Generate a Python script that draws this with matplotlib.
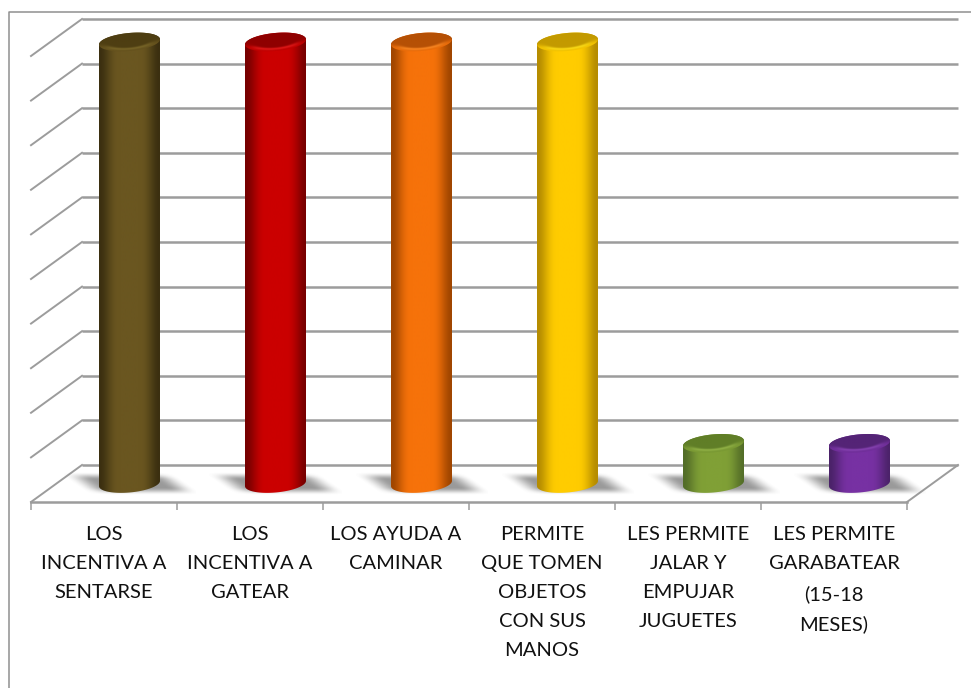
import numpy as np
import matplotlib
matplotlib.use("Agg")
import matplotlib.pyplot as plt
from matplotlib.colors import to_rgb
from matplotlib.lines import Line2D
from matplotlib.patches import Polygon

categories = ["LOS\nINCENTIVA A\nSENTARSE", "LOS\nINCENTIVA A\nGATEAR", "LOS AYUDA A\nCAMINAR",
              "PERMITE\nQUE TOMEN\nOBJETOS\nCON SUS\nMANOS", "LES PERMITE\nJALAR Y\nEMPUJAR\nJUGUETES",
              "LES PERMITE\nGARABATEAR\n(15-18\nMESES)"]
values = [99, 99, 99, 99, 9, 9]
edge_colors = ["#3b2f10", "#760000", "#a04600", "#b58c00", "#536d28", "#4b2269"]
center_colors = ["#6a5620", "#cb0000", "#f6720a", "#ffcc00", "#80a036", "#7731a3"]
top_colors = ["#4e3e12", "#8f0000", "#b55005", "#c39a00", "#607e27", "#542476"]
rim_colors = ["#7d6a2a", "#ea1c1c", "#ff8c26", "#ffe21a", "#97b84a", "#8c45b8"]
grid_values = list(range(0, 101, 10))

W, H = 971, 688
L, R, B, T = 31, 907, 502, 56
GRID = "#9c9c9c"

fig = plt.figure(figsize=(W / 100, H / 100), dpi=100, facecolor="white")
ax = fig.add_axes([L / W, 1 - B / H, (R - L) / W, (B - T) / H])
ax.set_xlim(0, 6)
ax.set_ylim(0, 100)
ux, uy = (R - L) / 6, (B - T) / 100      # px per data unit
depth_x, depth_y = 51 / ux, 37 / uy

# outer frame
fig.add_artist(Line2D([8.5 / W, 8.5 / W, 1], [0, 1 - 11.5 / H, 1 - 11.5 / H], color="#8f8f8f", lw=1.1))

# walls and floor
for v in grid_values:
    ax.plot([depth_x, 6 + depth_x], [v + depth_y] * 2, color=GRID, lw=1.8,
            clip_on=False, zorder=1, solid_capstyle="butt")
    ax.plot([0, depth_x], [v, v + depth_y], color=GRID, lw=1.4, clip_on=False, zorder=1)
ax.plot([6, 6 + depth_x], [0, depth_y], color=GRID, lw=1.4, clip_on=False, zorder=1)

for s in ("top", "left", "right"):
    ax.spines[s].set_visible(False)
ax.spines["bottom"].set_color(GRID)
ax.spines["bottom"].set_linewidth(1.8)
ax.set_yticks([])
ax.set_xticks(range(7))
ax.set_xticklabels([])
ax.tick_params(axis="x", which="major", length=6, width=1.1, color=GRID, direction="out")
ax.set_xticks(np.arange(6) + 0.5, minor=True)
ax.set_xticklabels(categories, minor=True, fontsize=14.5, family="Lato", color="#111111",
                   linespacing=1.87, va="top", ha="center", multialignment="center")
ax.tick_params(axis="x", which="minor", length=0, pad=17)

half_w = 30.5 / ux
half_h = 9 / uy
tilt = 2.6 / uy
t = np.linspace(0, 2 * np.pi, 160)


def ellipse(cx, cy, tt=t):
    return cx + half_w * np.cos(tt), cy + half_h * np.sin(tt) + tilt * np.cos(tt)


def smooth(a, e0, e1):
    s = np.clip((a - e0) / (e1 - e0), 0, 1)
    return s * s * (3 - 2 * s)


for i, v in enumerate(values):
    cx = i + 0.5 + depth_x / 2
    cy = depth_y / 2
    top = cy + v

    # soft floor shadow
    sx0, sx1 = cx - 66 / ux, cx + 66 / ux
    sy0, sy1 = cy - 14 / uy, cy + 14 / uy
    xs, ys = np.meshgrid(np.linspace(sx0, sx1, 132), np.linspace(sy0, sy1, 28))
    dxp, dyp = (xs - cx) * ux, (ys - cy) * uy
    u = dxp + dyp * 1.38
    a = (1 - smooth(np.abs(u), 30, 58)) * (1 - smooth(np.abs(dyp + 0.5), 4, 12)) * 0.68
    rgba = np.zeros(xs.shape + (4,))
    rgba[..., :3] = 0.42
    rgba[..., 3] = a
    ax.imshow(rgba, extent=(sx0, sx1, sy0, sy1), origin="lower", aspect="auto", zorder=2, clip_on=False,
              interpolation="bilinear")

    # cylinder body with horizontal shading
    ex, ey = to_rgb(edge_colors[i]), to_rgb(center_colors[i])
    n = 128
    pos = np.abs(np.linspace(-1, 1, n))
    mix = (1 - smooth(pos, 0.3, 1.0) ** 1.4)[None, :, None]
    grad = np.array(ex)[None, None, :] * (1 - mix) + np.array(ey)[None, None, :] * mix
    xb, yb = ellipse(cx, cy, np.linspace(np.pi, 2 * np.pi, 80))
    xt, yt = ellipse(cx, top, np.linspace(0, np.pi, 80))
    body = Polygon(np.column_stack([np.r_[xb, xt], np.r_[yb, yt]]), closed=True, transform=ax.transData,
                   fc="none", ec="none")
    ax.add_patch(body)
    body.set_clip_on(False)
    im = ax.imshow(grad, extent=(cx - half_w, cx + half_w, cy - 3 * half_h, top + 3 * half_h), origin="lower",
                   aspect="auto", zorder=3, interpolation="bilinear")
    im.set_clip_box(fig.bbox)
    im.set_clip_path(body)

    # top face with a bright front rim
    gx, gy = np.meshgrid(np.linspace(-1.02, 1.02, 200), np.linspace(-1.45, 1.45, 90))
    yy = gy * half_h
    row = (yy - tilt * gx) / half_h
    r = np.sqrt(gx ** 2 + row ** 2)
    front = smooth(-row, 0.1, 0.7)
    glow = np.exp(-((r - 0.78) / 0.12) ** 2) * front * 0.85
    base = smooth(r, 0.6, 1.0) * smooth(-row, -0.2, 0.5) * 0.8
    tc, rc, mc = np.array(to_rgb(top_colors[i])), np.array(to_rgb(rim_colors[i])), np.array(to_rgb(center_colors[i]))
    col = tc[None, None, :] * (1 - base[..., None]) + mc[None, None, :] * base[..., None]
    col = col * (1 - glow[..., None]) + rc[None, None, :] * glow[..., None]
    ex_top = (cx - 1.02 * half_w, cx + 1.02 * half_w, top - 1.45 * half_h, top + 1.45 * half_h)
    face_x, face_y = ellipse(cx, top)
    face = Polygon(np.column_stack([face_x, face_y]), closed=True, transform=ax.transData, fc="none", ec="none")
    ax.add_patch(face)
    face.set_clip_on(False)
    im2 = ax.imshow(col, extent=ex_top, origin="lower", aspect="auto", zorder=4, interpolation="bilinear")
    im2.set_clip_box(fig.bbox)
    im2.set_clip_path(face)

ax.set_xlim(0, 6)
ax.set_ylim(0, 100)
fig.savefig("out.png", dpi=100, facecolor="white")
